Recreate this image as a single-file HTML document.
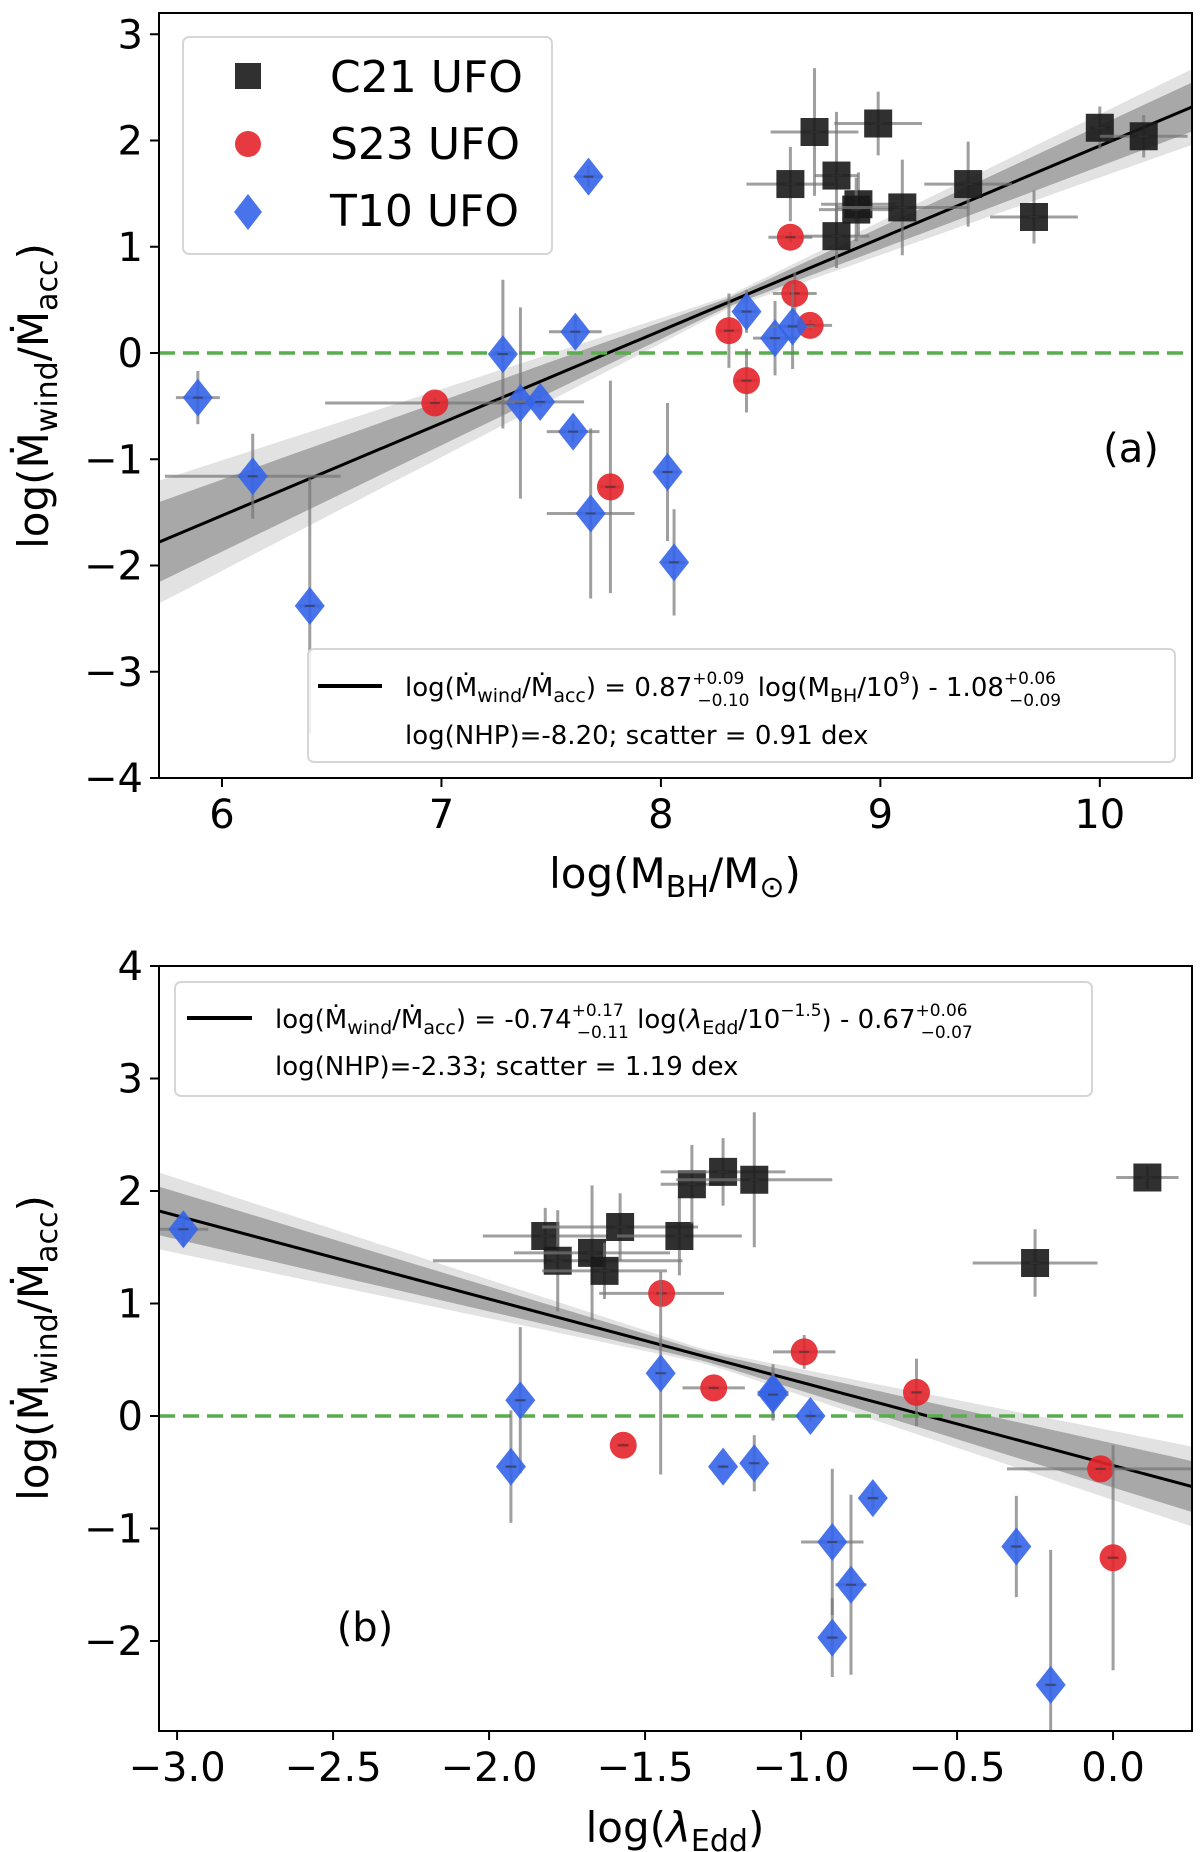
<!DOCTYPE html>
<html><head><meta charset="utf-8"><style>
html,body{margin:0;padding:0;background:#fff}
svg{display:block;font-family:"DejaVu Sans","Liberation Sans",sans-serif}
</style></head><body>
<svg id="fig" width="1200" height="1852" viewBox="0 0 1200 1852"></svg>
<script>
// ===== Panel (a) data =====
const aC21x = [8.70, 8.99, 8.59, 8.80, 8.90, 8.89, 9.10, 8.80, 9.40, 9.70, 10.00, 10.20];
const aC21y = [2.08, 2.16, 1.59, 1.67, 1.40, 1.35, 1.37, 1.10, 1.59, 1.28, 2.12, 2.04];
const aC21xe = [0.20, 0.20, 0.20, 0.10, 0.17, 0.17, 0.30, 0.15, 0.20, 0.20, 0.05, 0.20];
const aC21ye = [0.60, 0.30, 0.35, 0.60, 0.30, 0.30, 0.45, 0.30, 0.40, 0.25, 0.20, 0.20];
const aS23x = [6.97, 7.77, 8.59, 8.61, 8.31, 8.68, 8.39];
const aS23y = [-0.47, -1.26, 1.09, 0.56, 0.21, 0.26, -0.26];
const aS23xe = [0.50, 0.05, 0.10, 0.10, 0.05, 0.10, 0.05];
const aS23ye = [0.05, 1.00, 0.05, 0.20, 0.35, 0.05, 0.30];
const aT10x = [5.89, 6.14, 6.40, 7.28, 7.36, 7.45, 7.61, 7.60, 7.67, 7.68, 8.03, 8.06, 8.39, 8.52, 8.60];
const aT10y = [-0.42, -1.16, -2.38, -0.01, -0.47, -0.46, 0.20, -0.74, 1.66, -1.51, -1.12, -1.97, 0.39, 0.14, 0.25];
const aT10xe = [0.10, 0.40, 0.05, 0.05, 0.10, 0.20, 0.12, 0.12, 0.06, 0.20, 0.05, 0.05, 0.05, 0.10, 0.10];
const aT10ye = [0.25, 0.40, 1.20, 0.70, 0.90, 0.05, 0.15, 0.10, 0.10, 0.80, 0.65, 0.50, 0.20, 0.35, 0.40];
const aXTicks = [6, 7, 8, 9, 10];
const aYTicks = [3, 2, 1, 0, -1, -2, -3, -4];
const aFit = [0.87, 9.0, 1.08];

// ===== Panel (b) data =====
const bC21x = [-1.82, -1.78, -1.67, -1.63, -1.58, -1.39, -1.35, -1.25, -1.15, -0.25, 0.11];
const bC21y = [1.60, 1.38, 1.45, 1.29, 1.68, 1.60, 2.06, 2.17, 2.10, 1.36, 2.12];
const bC21xe = [0.20, 0.40, 0.25, 0.20, 0.25, 0.20, 0.10, 0.20, 0.25, 0.20, 0.10];
const bC21ye = [0.25, 0.45, 0.60, 0.25, 0.30, 0.35, 0.35, 0.30, 0.60, 0.30, 0.10];
const bS23x = [-1.447, -0.99, -1.28, -1.57, -0.63, -0.04, 0.00];
const bS23y = [1.09, 0.57, 0.25, -0.26, 0.21, -0.47, -1.26];
const bS23xe = [0.20, 0.10, 0.10, 0.02, 0.02, 0.30, 0.02];
const bS23ye = [0.10, 0.15, 0.02, 0.02, 0.30, 0.05, 1.00];
const bT10x = [-2.98, -1.90, -1.93, -1.45, -1.25, -1.15, -1.09, -1.09, -0.97, -0.77, -0.90, -0.84, -0.90, -0.31, -0.20];
const bT10y = [1.66, 0.14, -0.45, 0.38, -0.45, -0.42, 0.21, 0.19, 0.00, -0.73, -1.12, -1.50, -1.97, -1.16, -2.39];
const bT10xe = [0.08, 0.02, 0.02, 0.02, 0.02, 0.02, 0.05, 0.05, 0.02, 0.02, 0.10, 0.05, 0.02, 0.02, 0.02];
const bT10ye = [0.15, 0.65, 0.50, 0.90, 0.02, 0.25, 0.25, 0.20, 0.05, 0.10, 0.65, 0.80, 0.35, 0.45, 1.20];
const bXTicks = [-3.0, -2.5, -2.0, -1.5, -1.0, -0.5, 0.0];
const bYTicks = [4, 3, 2, 1, 0, -1, -2];
const bFit = [-0.74, -1.5, 0.67];

const NS = "http://www.w3.org/2000/svg";
const svg = document.getElementById("fig");
function el(tag, attrs, parent) {
  const e = document.createElementNS(NS, tag);
  for (const k in attrs) e.setAttribute(k, attrs[k]);
  (parent || svg).appendChild(e);
  return e;
}
function fmt(v, dec) { return (v < 0 ? "\u2212" : "") + Math.abs(v).toFixed(dec); }

function panel(cfg) {
  const g = el("g", {});
  
  
  const X = v => cfg.L + (v - cfg.x0) / (cfg.x1 - cfg.x0) * (cfg.R - cfg.L);
  const Y = v => cfg.B - (v - cfg.y0) / (cfg.y1 - cfg.y0) * (cfg.B - cfg.T);
  const clipId = cfg.name + "-clip";
  const defs = el("defs", {}, g);
  const cp = el("clipPath", { id: clipId }, defs);
  el("rect", { x: cfg.L, y: cfg.T, width: cfg.R - cfg.L, height: cfg.B - cfg.T }, cp);
  const plot = el("g", { "clip-path": "url(#" + clipId + ")" }, g);
  
  

  const f = cfg.fit;
  const line = x => f[0] * (x - f[1]) + f[2];
  [[cfg.bandLight, "#e2e2e2", "confidence-band-outer"], [cfg.bandDark, "#a8a8a8", "confidence-band-inner"]].forEach(b => {
    const w = b[0];
    const N = 40; let up = [], lo = [];
    for (let i = 0; i <= N; i++) {
      const x = cfg.x0 + (cfg.x1 - cfg.x0) * i / N;
      const dx = x - cfg.piv;
      const hw = w[0] + (dx < 0 ? w[1] : w[2]) * Math.abs(dx);
      up.push(X(x).toFixed(1) + "," + Y(line(x) + hw).toFixed(1));
      lo.unshift(X(x).toFixed(1) + "," + Y(line(x) - hw).toFixed(1));
    }
    const p = el("polygon", { points: up.concat(lo).join(" "), fill: b[1] }, plot);
    
    
  });
  const fl = el("line", { x1: X(cfg.x0), y1: Y(line(cfg.x0)), x2: X(cfg.x1), y2: Y(line(cfg.x1)), stroke: "#000", "stroke-width": 3 }, plot);
  
  
  const zl = el("line", { x1: cfg.L, y1: Y(0), x2: cfg.R, y2: Y(0), stroke: "#5aad4e", "stroke-width": 3.5, "stroke-dasharray": "16,8" }, plot);
  
  

  cfg.series.forEach(s => {
    const sg = el("g", {}, plot);
    
    
    for (let i = 0; i < s.x.length; i++) {
      const cx = X(s.x[i]), cy = Y(s.y[i]);
      const e1 = el("line", { x1: X(s.x[i] - s.xe[i]), y1: cy, x2: X(s.x[i] + s.xe[i]), y2: cy, stroke: "#777", "stroke-width": 3, opacity: 0.7 }, sg);
      
      
      const e2 = el("line", { x1: cx, y1: Y(s.y[i] - s.ye[i]), x2: cx, y2: Y(s.y[i] + s.ye[i]), stroke: "#777", "stroke-width": 3, opacity: 0.7 }, sg);
      
      
      let m;
      if (s.shape === "sq") m = el("rect", { x: cx - 14, y: cy - 14, width: 28, height: 28, fill: s.color, opacity: 0.9 }, sg);
      else if (s.shape === "ci") m = el("ellipse", { cx: cx, cy: cy, rx: 13.5, ry: 13.5, fill: s.color, opacity: 0.9 }, sg);
      else m = el("polygon", { points: `${cx},${cy-19} ${cx+15},${cy} ${cx},${cy+19} ${cx-15},${cy}`, fill: s.color, opacity: 0.9 }, sg);
      
      
      const t1 = el("line", { x1: cx - 5, y1: cy, x2: cx + 5, y2: cy, stroke: "#333", "stroke-width": 2, opacity: 0.6 }, sg);
      
      
    }
  });

  const fr = el("rect", { x: cfg.L, y: cfg.T, width: cfg.R - cfg.L, height: cfg.B - cfg.T, fill: "none", stroke: "#000", "stroke-width": 2 }, g);
  
  

  cfg.xt.forEach(v => {
    const tk = el("line", { x1: X(v), y1: cfg.B, x2: X(v), y2: cfg.B + 9, stroke: "#000", "stroke-width": 2 }, g);
    
    
    const t = el("text", { x: X(v), y: cfg.B + 50, "font-size": 40, "text-anchor": "middle" }, g);
    t.textContent = fmt(v, cfg.xdec);
    
    
  });
  cfg.yt.forEach(v => {
    const tk = el("line", { x1: cfg.L - 9, y1: Y(v), x2: cfg.L, y2: Y(v), stroke: "#000", "stroke-width": 2 }, g);
    
    
    const t = el("text", { x: cfg.L - 16, y: Y(v) + 14, "font-size": 40, "text-anchor": "end" }, g);
    t.textContent = fmt(v, 0);
    
    
  });
  return { g, X, Y };
}

const pa = panel({
  name: "panel-a", L: 159, R: 1192, T: 13, B: 778, x0: 5.713, x1: 10.42, y0: -4, y1: 3.2,
  fit: aFit, piv: 8.3, bandDark: [0.04, 0.13, 0.09], bandLight: [0.06, 0.20, 0.14],
  xt: aXTicks, yt: aYTicks, xdec: 0,
  series: [
    { name: "c21-series", shape: "sq", color: "#1a1a1a", x: aC21x, y: aC21y, xe: aC21xe, ye: aC21ye },
    { name: "s23-series", shape: "ci", color: "#e3242b", x: aS23x, y: aS23y, xe: aS23xe, ye: aS23ye },
    { name: "t10-series", shape: "di", color: "#3464e8", x: aT10x, y: aT10y, xe: aT10xe, ye: aT10ye }
  ]
});
const pb = panel({
  name: "panel-b", L: 159, R: 1192, T: 966, B: 1731, x0: -3.058, x1: 0.253, y0: -2.8, y1: 4,
  fit: bFit, piv: -1.3, bandDark: [0.04, 0.10, 0.12], bandLight: [0.06, 0.16, 0.19],
  xt: bXTicks, yt: bYTicks, xdec: 1,
  series: [
    { name: "c21-series", shape: "sq", color: "#1a1a1a", x: bC21x, y: bC21y, xe: bC21xe, ye: bC21ye },
    { name: "s23-series", shape: "ci", color: "#e3242b", x: bS23x, y: bS23y, xe: bS23xe, ye: bS23ye },
    { name: "t10-series", shape: "di", color: "#3464e8", x: bT10x, y: bT10y, xe: bT10xe, ye: bT10ye }
  ]
});
</script>

<svg width="1200" height="1852" viewBox="0 0 1200 1852" style="position:absolute;left:0;top:0;font-family:'DejaVu Sans','Liberation Sans',sans-serif">
  <g>
    <rect x="183" y="37" width="369" height="217" rx="6" fill="#fff" fill-opacity="0.85" stroke="#d6d6d6" stroke-width="2"/>
    <rect x="235" y="63" width="26" height="26" fill="#1a1a1a" opacity="0.9"/>
    <text x="330" y="92" font-size="44">C21 UFO</text>
    <circle cx="248" cy="144" r="13" fill="#e3242b" opacity="0.9"/>
    <text x="330" y="159" font-size="44">S23 UFO</text>
    <polygon points="248,194 262,212 248,230 234,212" fill="#3464e8" opacity="0.9"/>
    <text x="330" y="226" font-size="44">T10 UFO</text>
  </g>
  <g>
    <rect x="308" y="649" width="867" height="113" rx="6" fill="#fff" fill-opacity="0.85" stroke="#d6d6d6" stroke-width="2"/>
    <line x1="318" y1="686" x2="382" y2="686" stroke="#000" stroke-width="4"/>
    <text x="405" y="696" font-size="26">log(Ṁ<tspan font-size="19" dy="6">wind</tspan><tspan dy="-6">/Ṁ</tspan><tspan font-size="19" dy="6">acc</tspan><tspan dy="-6">) = 0.87</tspan><tspan font-size="17" dy="-12">+0.09</tspan><tspan font-size="17" dx="-47" dy="22">−0.10</tspan><tspan dy="-10"> log(M</tspan><tspan font-size="19" dy="6">BH</tspan><tspan dy="-6">/10</tspan><tspan font-size="17" dy="-12">9</tspan><tspan dy="12">) - 1.08</tspan><tspan font-size="17" dy="-12">+0.06</tspan><tspan font-size="17" dx="-47" dy="22">−0.09</tspan></text>
    <text x="405" y="744" font-size="26">log(NHP)=-8.20;   scatter = 0.91 dex</text>
  </g>
  <text x="1131" y="462" font-size="40" text-anchor="middle">(a)</text>
  <text transform="translate(48,396) rotate(-90)" font-size="42" text-anchor="middle">log(Ṁ<tspan font-size="30" dy="9">wind</tspan><tspan dy="-9">/Ṁ</tspan><tspan font-size="30" dy="9">acc</tspan><tspan dy="-9">)</tspan></text>
  <text x="675" y="888" font-size="42" text-anchor="middle">log(M<tspan font-size="30" dy="9">BH</tspan><tspan dy="-9">/M</tspan><tspan font-size="30" dy="9">⊙</tspan><tspan dy="-9">)</tspan></text>

  <g>
    <rect x="175" y="982" width="917" height="114" rx="6" fill="#fff" fill-opacity="0.85" stroke="#d6d6d6" stroke-width="2"/>
    <line x1="187" y1="1018" x2="252" y2="1018" stroke="#000" stroke-width="4"/>
    <text x="275" y="1028" font-size="26">log(Ṁ<tspan font-size="19" dy="6">wind</tspan><tspan dy="-6">/Ṁ</tspan><tspan font-size="19" dy="6">acc</tspan><tspan dy="-6">) = -0.74</tspan><tspan font-size="17" dy="-12">+0.17</tspan><tspan font-size="17" dx="-47" dy="22">−0.11</tspan><tspan dy="-10"> log(</tspan><tspan font-style="italic">λ</tspan><tspan font-size="19" dy="6">Edd</tspan><tspan dy="-6">/10</tspan><tspan font-size="17" dy="-12">−1.5</tspan><tspan dy="12">) - 0.67</tspan><tspan font-size="17" dy="-12">+0.06</tspan><tspan font-size="17" dx="-47" dy="22">−0.07</tspan></text>
    <text x="275" y="1075" font-size="26">log(NHP)=-2.33;   scatter = 1.19 dex</text>
  </g>
  <text x="365" y="1641" font-size="40" text-anchor="middle">(b)</text>
  <text transform="translate(48,1348) rotate(-90)" font-size="42" text-anchor="middle">log(Ṁ<tspan font-size="30" dy="9">wind</tspan><tspan dy="-9">/Ṁ</tspan><tspan font-size="30" dy="9">acc</tspan><tspan dy="-9">)</tspan></text>
  <text x="675" y="1842" font-size="42" text-anchor="middle">log(<tspan font-style="italic">λ</tspan><tspan font-size="30" dy="9">Edd</tspan><tspan dy="-9">)</tspan></text>
</svg>
</body></html>
